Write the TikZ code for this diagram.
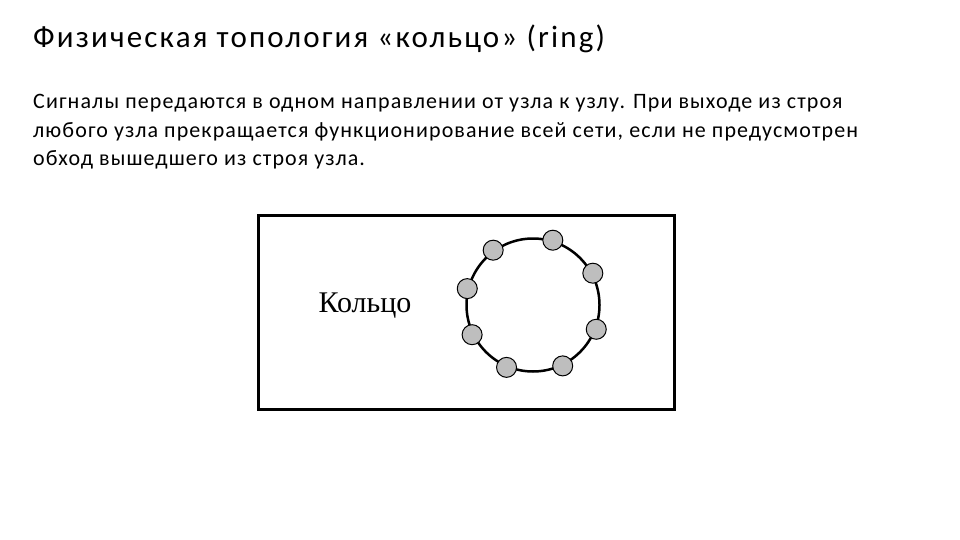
\documentclass[tikz,border=0pt]{standalone}
\usepackage{fontspec}
\setmainfont{Carlito}
\newfontfamily\headfont[LetterSpace=7]{Carlito}
\newfontfamily\bodyfont[LetterSpace=5]{Carlito}
\newfontfamily\serifcyr{Liberation Serif}
\usetikzlibrary{calc}
\definecolor{nodegray}{HTML}{BEBEBE}

\begin{document}
\begin{tikzpicture}[
	x=1pt, y=-1pt,
	heading/.style={anchor=base west, inner sep=0, font=\headfont\fontsize{31}{36}\selectfont},
	body/.style={anchor=base west, inner sep=0, align=left, font=\bodyfont\fontsize{22}{28}\selectfont},
	frame/.style={draw, line width=3pt},
	ring/.style={circle, draw, line width=2.5pt, inner sep=0, minimum size=133pt},
	station/.style={circle, draw, line width=1pt, fill=nodegray, inner sep=0, minimum size=20pt}
	]
	
	\useasboundingbox (0,0) rectangle (960,540);
	
	% Title and text (base of the text node is its last line)
	\node [heading] (title) at (33,48) {Физическая топология «кольцо» (ring)};
	\node [body] (text) at (33,165) {Сигналы передаются в одном направлении от узла к узлу. При выходе из строя\\
		любого узла прекращается функционирование всей сети, если не предусмотрен\\
		обход вышедшего из строя узла.};
	
	% Picture
	\coordinate (F1) at (258,215);
	\coordinate (F2) at (674,409);
	\draw [frame] (F1) rectangle (F2);
	\node [anchor=base, font=\serifcyr\fontsize{30}{34}\selectfont] (name) at (365,312) {Кольцо};
	
	\node [ring] (R) at (533,305) {};
	\foreach \a [count=\i] in {126, 73, 28, -21, -64, -113, -154, 166}
		\node [station] (S\i) at (R.\a) {};
\end{tikzpicture}
\end{document}
